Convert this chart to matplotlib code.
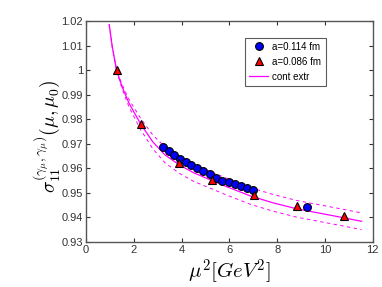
import numpy as np
import matplotlib
matplotlib.use("Agg")
import matplotlib.pyplot as plt

plt.rcParams['mathtext.fontset'] = 'cm'
plt.rcParams['font.family'] = ['Liberation Sans', 'DejaVu Sans']

# a = 0.114 fm (blue circles)
mu2_a114 = [3.23, 3.47, 3.69, 3.93, 4.17, 4.40, 4.65, 4.90, 5.18, 5.45,
            5.71, 5.97, 6.22, 6.48, 6.73, 6.99, 9.25]
sig_a114 = [0.9688, 0.9669, 0.9654, 0.9639, 0.9624, 0.9612, 0.9600, 0.9590,
            0.9578, 0.9562, 0.9548, 0.9543, 0.9535, 0.9528, 0.9521, 0.9513, 0.9443]

# a = 0.086 fm (red triangles)
mu2_a086 = [1.28, 2.29, 3.90, 5.27, 7.04, 8.82, 10.81]
sig_a086 = [1.0000, 0.9780, 0.9620, 0.9552, 0.9492, 0.9448, 0.9406]

# continuum extrapolation: central line and error band
mu2_cont = [0.975, 1.1, 1.28, 1.5, 1.8, 2.29, 2.8, 3.3, 3.9, 4.5, 5.27,
            5.81, 6.86, 7.8, 8.81, 10.81, 11.53]
sig_cont = [1.0184, 1.0095, 1.0, 0.9935, 0.9865, 0.9780, 0.9707, 0.9655,
            0.9614, 0.9582, 0.9550, 0.9528, 0.9488, 0.9460, 0.9435, 0.9398,
            0.9384]
sig_cont_hi = [1.0180, 1.0093, 1.0, 0.9943, 0.9880, 0.9803, 0.9735, 0.9687,
               0.9648, 0.9617, 0.9584, 0.9562, 0.9522, 0.9494, 0.9469, 0.9432,
               0.9418]
sig_cont_lo = [1.0188, 1.0097, 1.0, 0.9927, 0.9850, 0.9757, 0.9679, 0.9623,
               0.9580, 0.9547, 0.9516, 0.9494, 0.9454, 0.9426, 0.9401, 0.9364,
               0.9350]

fig = plt.figure(figsize=(3.82, 2.87), dpi=100)
ax = fig.add_axes([0.225, 0.157, 0.751, 0.770])

mag = '#ff00ff'
ax.plot(mu2_cont, sig_cont_hi, '--', color=mag, lw=0.7, dashes=(3.5, 3.5))
ax.plot(mu2_cont, sig_cont_lo, '--', color=mag, lw=0.7, dashes=(3.5, 3.5))
ax.plot(mu2_a114, sig_a114, 'o', color='#0000ff', mec='black', mew=0.8,
        ms=5.6, label='a=0.114 fm', zorder=3)
ax.plot(mu2_a086, sig_a086, '^', color='#ff0000', mec='black', mew=0.8,
        ms=5.8, label='a=0.086 fm', zorder=4)
ax.plot(mu2_cont, sig_cont, '-', color=mag, lw=0.9, label='cont extr', zorder=2)

ax.set_xlim(0, 12)
ax.set_ylim(0.93, 1.02)
ax.set_xticks(np.arange(0, 13, 2))
ax.set_yticks(np.arange(0.93, 1.021, 0.01))
ax.set_yticklabels(['0.93', '0.94', '0.95', '0.96', '0.97', '0.98', '0.99',
                    '1', '1.01', '1.02'])
ax.tick_params(direction='in', top=True, right=True, labelsize=8,
               length=3, width=0.8, colors='#333333', pad=2)
for s in ax.spines.values():
    s.set_color('#555555')
    s.set_linewidth(1.0)

ax.set_xlabel(r'$\mu^2[GeV^2]$', fontsize=15, labelpad=2)
ax.set_ylabel(r'$\sigma_{11}^{(\gamma_\mu,\gamma_\mu)}(\mu,\mu_0)$', fontsize=14)
ax.yaxis.set_label_coords(-0.085, 0.48)

leg = ax.legend(loc='upper left', bbox_to_anchor=(0.553, 0.925), fontsize=7,
                frameon=True, fancybox=False, edgecolor='#333333',
                borderpad=0.45, labelspacing=0.5, handlelength=2.0,
                handletextpad=0.4, borderaxespad=0)
leg.get_frame().set_linewidth(0.8)

fig.savefig('out.png', dpi=100)
